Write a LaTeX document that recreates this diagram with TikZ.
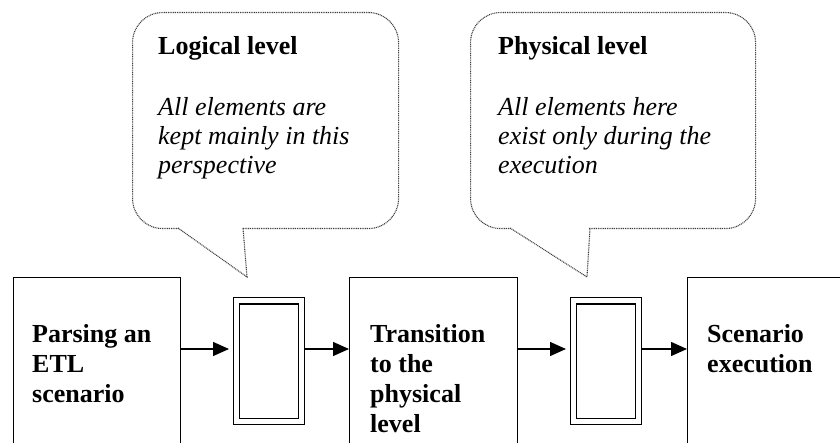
\documentclass[tikz,border=0pt]{standalone}
\usepackage{fontspec}
\setmainfont{Liberation Serif}
\usetikzlibrary{arrows.meta}
\begin{document}
\begin{tikzpicture}[x=1pt,y=-1pt,
  stage/.style={draw, line width=1.3pt, rectangle, anchor=north west, inner sep=0pt},
  bufouter/.style={draw, line width=1.2pt, rectangle, anchor=north west, inner sep=0pt,
    minimum width=71pt, minimum height=127pt},
  bufinner/.style={draw, line width=1.2pt, rectangle, inner sep=0pt,
    minimum width=59pt, minimum height=114pt},
  label/.style={anchor=north west, inner sep=0pt, align=left,
    font=\fontsize{26pt}{30pt}\selectfont\bfseries},
  bubble/.style={draw=black!75, line width=1.1pt, dash pattern=on 1pt off 0.8pt,
    rounded corners=30pt, rectangle, anchor=north west, inner sep=0pt},
  bubbleline/.style={draw=black!75, line width=1.1pt, dash pattern=on 1pt off 0.8pt},
  title/.style={anchor=north west, inner sep=0pt,
    font=\fontsize{26pt}{30pt}\selectfont\bfseries},
  note/.style={anchor=north west, inner sep=0pt, align=left,
    font=\fontsize{26pt}{29pt}\selectfont\itshape},
  flow/.style={line width=1.3pt, -{Triangle[length=16pt,width=14pt]}}
]
\useasboundingbox (0,0) rectangle (840,443);

% process stages (they run off the lower edge)
\node[stage, minimum width=167pt, minimum height=200pt] (parse) at (13,277) {};
\node[stage, minimum width=168pt, minimum height=200pt] (trans) at (349,277) {};
\node[stage, minimum width=200pt, minimum height=200pt] (exec) at (687,277) {};

\node[label] (parsetxt) at (32,324) {Parsing an\\ETL\\scenario};
\node[label] (transtxt) at (370,324) {Transition\\to the\\physical\\level};
\node[label] (exectxt) at (707,324) {Scenario\\execution};

% intermediate stores
\node[bufouter] (buf1) at (233,297) {};
\node[bufinner] (buf1in) at (buf1.center) {};
\node[bufouter] (buf2) at (570,297) {};
\node[bufinner] (buf2in) at (buf2.center) {};

% data flow
\coordinate (lane) at (0,349);
\draw[flow, shorten >=4pt] (parse.east |- lane) -- (buf1.west |- lane);
\draw[flow] (buf1.east |- lane) -- (trans.west |- lane);
\draw[flow, shorten >=4pt] (trans.east |- lane) -- (buf2.west |- lane);
\draw[flow] (buf2.east |- lane) -- (exec.west |- lane);

% callout: logical level
\node[bubble, minimum width=266pt, minimum height=216pt] (logical) at (132,12) {};
\fill[white] (179,224) rectangle (242,232);
\coordinate (lbase1) at (178,228);
\coordinate (lbase2) at (243,228);
\coordinate (ltip) at (247,277);
\draw[bubbleline] (lbase1) -- (ltip) -- (lbase2);
\node[title] (logtitle) at (158,36) {Logical level};
\node[note] (lognote) at (158,97) {All elements are\\kept mainly in this\\perspective};

% callout: physical level
\node[bubble, minimum width=285pt, minimum height=216pt] (physical) at (470,12) {};
\fill[white] (511,224) rectangle (589,232);
\coordinate (pbase1) at (510,228);
\coordinate (pbase2) at (590,228);
\coordinate (ptip) at (587,277);
\draw[bubbleline] (pbase1) -- (ptip) -- (pbase2);
\node[title] (phytitle) at (498,36) {Physical level};
\node[note] (phynote) at (498,97) {All elements here\\exist only during the\\execution};
\end{tikzpicture}
\end{document}
